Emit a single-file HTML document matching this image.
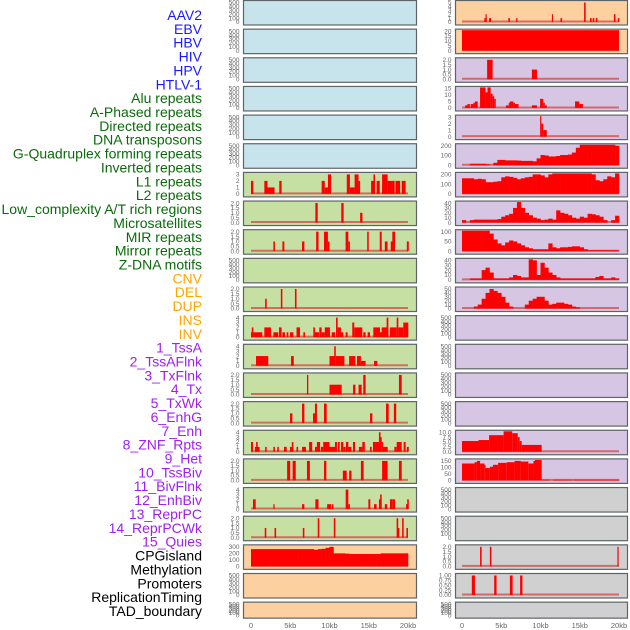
<!DOCTYPE html>
<html><head><meta charset="utf-8"><style>
html,body{margin:0;padding:0;background:#fff;width:630px;height:630px;overflow:hidden}
svg{display:block}
</style></head><body>
<svg id="chart" width="630" height="630" viewBox="0 0 630 630" xmlns="http://www.w3.org/2000/svg" font-family="'Liberation Sans', sans-serif"></svg>
<script>
// ---- labels ----
const labelNames = ["AAV2","EBV","HBV","HIV","HPV","HTLV-1","Alu repeats","A-Phased repeats","Directed repeats","DNA transposons","G-Quadruplex forming repeats","Inverted repeats","L1 repeats","L2 repeats","Low_complexity A/T rich regions","Microsatellites","MIR repeats","Mirror repeats","Z-DNA motifs","CNV","DEL","DUP","INS","INV","1_TssA","2_TssAFlnk","3_TxFlnk","4_Tx","5_TxWk","6_EnhG","7_Enh","8_ZNF_Rpts","9_Het","10_TssBiv","11_BivFlnk","12_EnhBiv","13_ReprPC","14_ReprPCWk","15_Quies","CPGisland","Methylation","Promoters","ReplicationTiming","TAD_boundary"];
const labelGroups = [6,13,5,15,5];
const groupColors = ["#1a1aff","#0b6b0b","#ffa500","#a020f0","#000000"];
const xTickValues = [0,5,10,15,20];
const xTickLabels = ["0","5kb","10kb","15kb","20kb"];
const emptyTicks = [0,100,200,300,400,500];

// ---- left column data: bars are [startKb, endKb, value] ----
const L_L1 = [[0,0.3,2],[1.7,2.1,2],[2.1,3.0,1],[3.6,3.9,2],[9.0,9.4,2],[9.4,9.8,1],[9.8,10.2,3],[12.2,12.6,3],[12.6,13.2,1],[13.2,13.7,3],[13.7,13.9,2],[15.3,15.7,2],[15.6,15.8,3],[16.0,16.4,2],[16.7,17.4,3],[16.7,17.0,1],[17.4,18.3,2],[18.4,19.0,2],[19.2,19.7,2]];
const L_L2 = [[8.2,8.5,2],[11.5,11.8,2],[13.9,14.2,1]];
const L_LowC = [[2.85,3.05,1],[4.0,4.25,1],[6.5,6.8,1],[8.3,8.6,2],[9.3,9.8,2],[9.8,10.0,1],[12.05,12.4,2],[12.4,12.6,1],[14.8,15.0,2],[16.4,16.65,2],[17.05,17.4,1],[17.8,18.1,1],[18.0,18.35,2],[19.85,20.1,1]];
const L_MIR = [[1.8,2.0,1],[3.8,4.0,2],[5.6,5.8,2]];
const L_Mirror = [[0,0.3,1],[0.1,0.3,2],[0.3,1.44,1],[1.7,2.55,2],[2.85,3.48,1],[3.57,3.9,2],[4.0,4.33,1],[4.54,4.76,1],[4.97,5.4,1],[5.8,6.24,2],[6.67,6.88,1],[7.94,8.15,2],[8.15,8.66,1],[8.7,9.0,2],[9.0,9.4,1],[9.4,10.06,2],[10.28,10.7,1],[10.83,11.04,4],[11.04,11.46,2],[11.46,11.76,1],[12.06,12.31,1],[12.9,13.16,3],[13.16,14.18,2],[14.3,14.6,1],[14.86,15.16,1],[15.58,16.43,2],[16.43,16.86,1],[16.65,17.5,2],[17.28,17.5,4],[17.7,18.56,2],[18.56,18.77,4],[18.77,19.4,2],[19.4,20.04,3]];
const L_TssA = [[0.64,2.2,2],[5.1,5.45,2],[10.0,10.7,2],[10.6,10.8,4],[10.8,11.9,2],[12.5,13.3,2],[13.5,14.0,2],[14.0,14.6,1],[15.67,16.1,1]];
const L_TssAF = [[7.13,7.3,2],[10.0,11.55,1],[13.0,13.3,1],[13.7,14.1,1],[14.3,14.6,2],[18.85,19.2,2]];
const L_TxF = [[4.97,5.27,1],[6.5,6.8,2],[7.9,8.24,1],[8.15,8.4,2],[9.3,9.64,2],[15.16,15.46,1],[17.2,17.54,2],[18.2,18.5,2]];
const L_Tx = [[0,0.25,2],[0.5,1.1,1],[0.65,0.85,2],[1.8,2.0,1],[2.85,3.05,1],[3.35,3.55,1],[4.2,4.55,1],[4.97,5.4,1],[5.2,5.4,2],[5.8,6.0,1],[6.5,7.0,1],[7.4,7.8,2],[8.15,8.4,1],[8.4,8.8,2],[8.9,9.2,1],[9.2,10.0,2],[10.0,10.7,1],[10.7,10.95,2],[11.07,11.3,2],[11.46,11.76,2],[11.76,12.06,1],[12.1,12.4,2],[12.4,12.8,1],[12.99,13.25,2],[13.75,14.18,1],[14.18,14.5,2],[15.16,15.37,1],[15.54,15.8,2],[15.8,16.43,2],[16.3,16.5,4],[16.45,16.65,3],[16.65,16.82,2],[16.82,17.41,1],[18.26,18.56,1],[18.56,19.2,2],[19.45,19.7,2],[19.85,20.1,1]];
const L_TxWk = [[4.6,5.0,2],[5.3,5.7,2],[7.13,7.5,2],[9.3,9.6,2],[11.7,12.2,1],[12.5,12.8,1],[14.0,14.35,2],[16.7,17.4,2],[18.85,19.2,2]];
const L_EnhG = [[0.25,0.6,2],[2.85,3.0,1],[6.5,6.8,1],[8.2,8.6,2],[9.7,10.2,1],[10.3,10.5,1],[12.06,12.4,4],[12.4,12.6,1],[14.95,15.2,2],[15.67,16.0,1],[16.3,16.5,2],[16.45,16.65,3],[17.05,17.35,1],[17.7,18.0,2],[18.0,18.35,2],[19.75,19.95,1],[19.9,20.1,2]];
const L_Enh = [[1.75,1.95,1],[3.0,3.2,1],[6.6,6.8,1],[8.5,8.7,2],[10.55,10.75,2],[18.55,18.75,2],[18.7,18.9,1],[19.25,19.45,2],[19.8,20.0,1]];
const L_CpG_bins = [265,265,265,265,265,265,265,265,265,265,265,265,265,265,265,265,255,265,270,285,300,200,200,200,195,190,190,190,190,190,190,190,190,200,200,200,200,200,200,200];

// ---- right column data ----
const R_Top = [[2.85,3.0,1],[3.0,3.1,2],[3.45,3.7,1],[5.9,6.1,1],[6.9,7.05,1],[11.45,11.6,2],[12.55,12.75,1],[15.55,15.75,5],[16.3,16.5,1],[16.65,16.85,1],[17.05,17.25,1],[19.35,19.55,2],[19.85,20.05,1]];
const R_Full = [[0,20,22]];
const R_Two = [[3.2,3.9,2],[8.9,9.55,1]];
const R_Multi = [[0.4,0.7,2],[0.7,1.0,3],[1.1,1.45,3],[1.45,1.65,4],[1.65,2.0,5],[2.3,3.0,17],[3.0,3.25,12],[3.25,3.65,19],[3.65,3.9,11],[3.9,4.1,9],[4.1,4.3,7],[5.6,5.95,2],[5.95,6.1,4],[6.1,6.55,5],[6.55,6.75,4],[6.75,7.2,3],[8.9,9.55,2],[9.95,10.35,7],[10.35,10.55,4],[10.55,10.8,2],[14.4,14.95,5],[14.95,15.4,3]];
const R_Spike = [[9.95,10.1,3.2],[10.1,10.35,2],[10.35,10.8,1]];
const R_G4_bins = [0,0,15,15,15,15,10,0,25,55,55,50,50,50,48,45,45,45,40,70,105,100,90,90,95,105,105,110,130,180,230,255,265,280,270,250,230,240,230,200];
const R_L1_bins = [160,160,160,150,155,150,120,120,125,130,170,180,175,165,150,160,170,175,200,200,190,170,200,220,250,270,285,290,290,280,270,260,230,200,140,130,150,180,170,210];
const R_Low_bins = [5,0,5,6,6,6,6,6,6,7,12,15,18,30,45,30,20,15,10,8,5,6,8,6,25,20,18,15,10,8,12,10,18,17,15,12,5,0,5,14];
const R_MIR_bins = [130,135,140,125,140,130,110,90,60,40,30,45,55,50,40,30,20,15,10,10,10,10,40,20,15,20,20,22,25,25,20,10,5,5,5,5,5,5,5,5];
const R_Mirror_bins = [0,0,3,3,3,20,25,15,3,3,3,3,5,10,8,5,5,45,40,10,35,25,15,10,5,3,3,3,3,3,3,3,3,3,6,8,3,3,5,3];
const R_ZDNA_bins = [0,0,0,5,10,25,40,50,45,40,30,15,5,0,0,0,10,20,25,30,30,20,10,12,15,15,12,10,5,3,0,0,0,0,0,0,0,0,0,0];
const R_Enh = [[0,2.1,5.5],[2.1,3.45,6],[3.45,5.3,8.5],[5.3,6.4,10.5],[6.4,7.1,9.5],[7.1,7.35,7.5],[7.35,7.6,5.5],[7.6,10.15,3.5]];
const R_ZNF = [[0,1.6,130],[1.6,1.9,140],[1.9,2.3,150],[2.3,2.85,130],[2.85,3.0,120],[3.0,3.55,95],[3.55,3.95,105],[3.95,4.6,120],[4.6,5.7,135],[5.7,6.7,140],[6.7,7.5,150],[7.5,8.45,145],[8.45,9.1,130],[9.1,9.3,150],[9.3,10.15,160],[10.15,11.2,5],[11.6,14.0,5],[14.2,20.1,5]];
const R_CpG = [[2.3,2.5,2],[3.55,3.75,2],[19.8,19.95,2]];
const R_Meth = [[1.25,1.65,1],[4.1,4.4,1],[6.1,6.45,1],[7.4,7.7,1]];

const BG = {blue:"#c7e4ec",green:"#c6e0a4",orange:"#fdd09f",purple:"#d6c6e3",gray:"#d0d0d0"};
const panels = [];
function P(col,row,bg,ticks,bars,bins,name){panels.push({col,row,bg,ticks,bars,bins,name});}
for(let r=0;r<6;r++) P(0,r,"blue",emptyTicks,null,null,"empty");
P(0,6,"green",[0,1,2,3],L_L1,null,"l1-repeats");
P(0,7,"green",[0,0.5,1,1.5,2],L_L2,null,"l2-repeats");
P(0,8,"green",[0,0.5,1,1.5,2],L_LowC,null,"low-complexity");
P(0,9,"green",emptyTicks,null,null,"microsatellites");
P(0,10,"green",[0,0.5,1,1.5,2],L_MIR,null,"mir-repeats");
P(0,11,"green",[0,1,2,3,4],L_Mirror,null,"mirror-repeats");
P(0,12,"green",[0,1,2,3,4],L_TssA,null,"tssa");
P(0,13,"green",[0,0.5,1,1.5,2],L_TssAF,null,"tssaflnk");
P(0,14,"green",[0,0.5,1,1.5,2],L_TxF,null,"txflnk");
P(0,15,"green",[0,1,2,3,4],L_Tx,null,"tx");
P(0,16,"green",[0,0.5,1,1.5,2],L_TxWk,null,"txwk");
P(0,17,"green",[0,1,2,3,4],L_EnhG,null,"enhg");
P(0,18,"green",[0,0.5,1,1.5,2],L_Enh,null,"enh");
P(0,19,"orange",[0,100,200,300],null,L_CpG_bins,"cpg");
P(0,20,"orange",emptyTicks,null,null,"empty");
P(0,21,"orange",emptyTicks,null,null,"empty");
P(1,0,"orange",[0,1,2,3,4,5],R_Top,null,"top");
P(1,1,"orange",[0,5,10,15,20],R_Full,null,"full");
P(1,2,"purple",[0,0.5,1,1.5,2],R_Two,null,"two");
P(1,3,"purple",[0,5,10,15],R_Multi,null,"multi");
P(1,4,"purple",[0,1,2,3],R_Spike,null,"spike");
P(1,5,"purple",[0,100,200],null,R_G4_bins,"g4");
P(1,6,"purple",[0,100,200],null,R_L1_bins,"l1");
P(1,7,"purple",[0,10,20,30,40],null,R_Low_bins,"low");
P(1,8,"purple",[0,50,100],null,R_MIR_bins,"mir");
P(1,9,"purple",[0,10,20,30,40],null,R_Mirror_bins,"mirror");
P(1,10,"purple",[0,10,20,30,40,50],null,R_ZDNA_bins,"zdna");
for(let r=11;r<15;r++) P(1,r,"purple",emptyTicks,null,null,"empty");
P(1,15,"purple",[0,2.5,5,7.5,10],R_Enh,null,"enh");
P(1,16,"purple",[0,50,100,150],R_ZNF,null,"znf");
P(1,17,"gray",emptyTicks,null,null,"empty");
P(1,18,"gray",emptyTicks,null,null,"empty");
P(1,19,"gray",[0,0.5,1,1.5,2],R_CpG,null,"cpg");
P(1,20,"gray",[0,0.25,0.5,0.75,1],R_Meth,null,"methylation");
P(1,21,"gray",emptyTicks,null,null,"empty");

const svg = document.getElementById("chart");
const NS = "http://www.w3.org/2000/svg";
function el(tag, attrs, parent){const e=document.createElementNS(NS,tag);for(const k in attrs)e.setAttribute(k,attrs[k]);(parent||svg).appendChild(e);return e;}

// labels
let li=0;
labelGroups.forEach((n,g)=>{for(let i=0;i<n;i++){
  const t=el("text",{x:202,y:15+li*13.86+5,"text-anchor":"end","font-size":"14",fill:groupColors[g]});
  t.textContent=labelNames[li];
  
  
  li++;}});

const COLX=[243,455], COLW=[173,172], X0=[251,462], X1=[408,619];
const ROWH=28.65;
function fmt(v,ticks){const step=ticks[1]-ticks[0];if(step<0.5&&step!==Math.round(step))return v.toFixed(2);if(step===0.5||step===2.5)return v.toFixed(1);return String(v);}

panels.forEach(p=>{
  const PH = p.row===21 ? 16 : 24.5;
  const top=p.row*ROWH+0.5, left=COLX[p.col]+0.5;
  const g=el("g",{});
  
  
  el("rect",{x:left,y:top,width:COLW[p.col],height:PH,fill:BG[p.bg],stroke:"#5e6468","stroke-width":1.2},g);
  const ymax=p.ticks[p.ticks.length-1];
  const base=top+PH-3, ysc=v=>base-Math.min(v,ymax*1.05)/ymax*(PH-5);
  const xs=kb=>X0[p.col]+(X1[p.col]-X0[p.col])*kb/20;
  p.ticks.forEach(t=>{
    const tx=el("text",{x:left-4,y:ysc(t)+2.2,"text-anchor":"end","font-size":"6.5",fill:"#666"},g);
    tx.textContent=fmt(t,p.ticks);
    
    
  });
  if(p.bars||p.bins){
    el("line",{x1:xs(0),x2:xs(20),y1:base-0.5,y2:base-0.5,stroke:"#d65050","stroke-width":2,opacity:0.8},g);
  }
  if(p.bars) p.bars.forEach(b=>{
    const y=ysc(b[2]);
    const r=el("rect",{x:xs(b[0]),y:y,width:Math.max(1.2,xs(b[1])-xs(b[0])),height:base-y,fill:"#ff0000"},g);
    
    
  });
  if(p.bins) p.bins.forEach((v,i)=>{
    if(v<=0) return;
    const y=ysc(v);
    const r=el("rect",{x:xs(i*0.5),y:y,width:xs(0.5)-xs(0)+0.3,height:base-y,fill:"#ff0000"},g);
    
    
  });
});
// x axes
[0,1].forEach(c=>{
  xTickValues.forEach((v,i)=>{
    const x=X0[c]+(X1[c]-X0[c])*v/20;
    const t=el("text",{x:x,y:628,"text-anchor":"middle","font-size":"7.5",fill:"#666"});
    t.textContent=xTickLabels[i];
    
    
  });
});
</script>
</body></html>
